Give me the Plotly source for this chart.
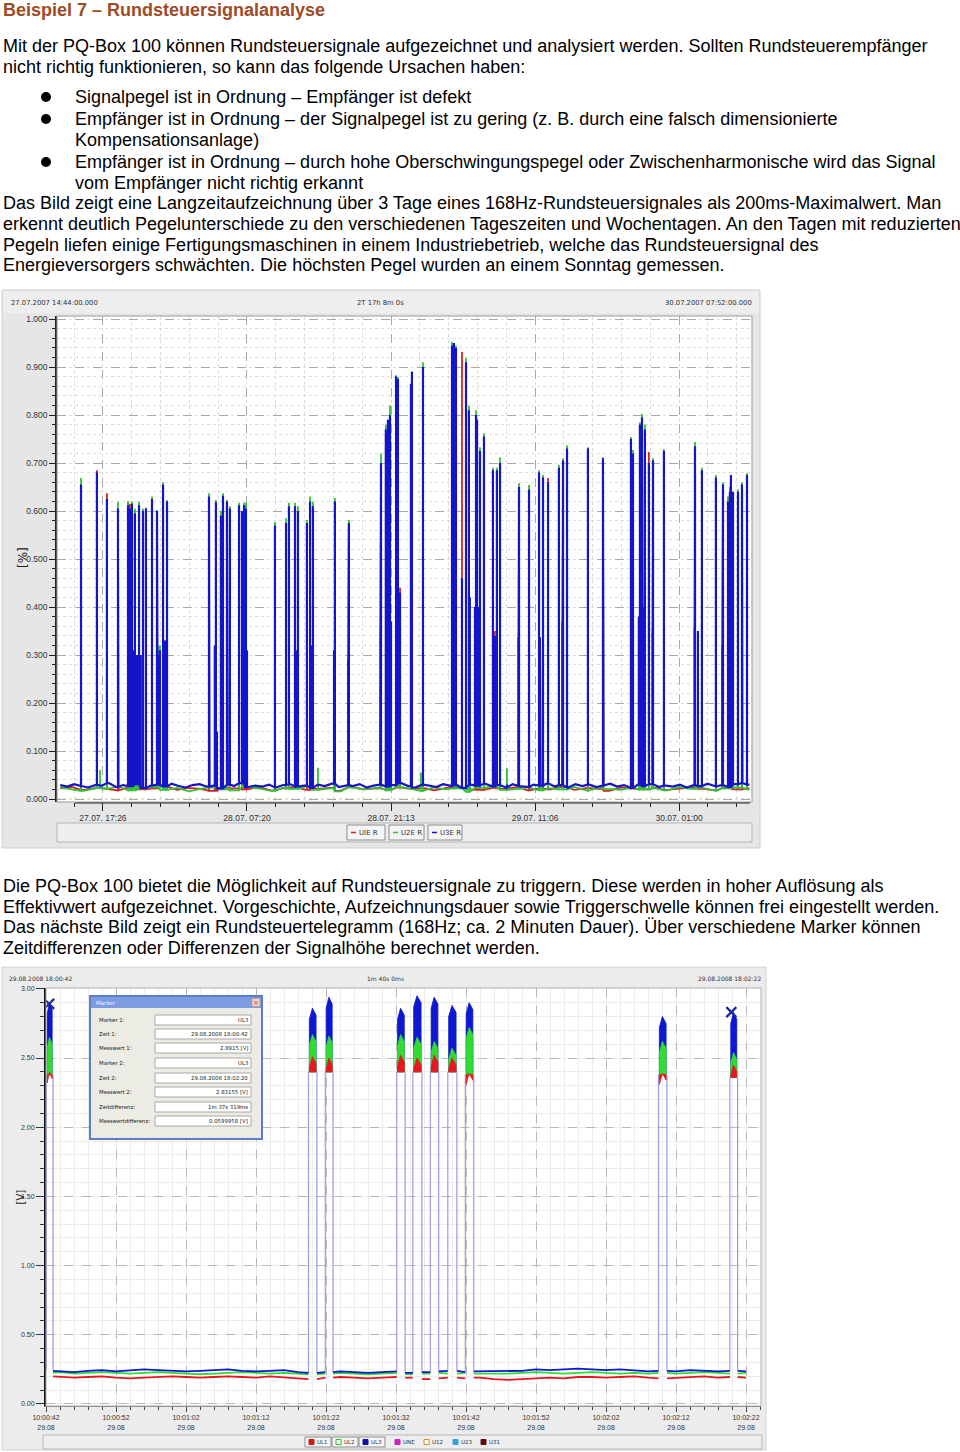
import numpy as np
import plotly.graph_objects as go

W, H = 960, 1452
def X(p): return p / W
def Y(p): return 1 - p / H

# ---------------- Chart 1 data (minutes after 27.07.2007 14:44) ----------------
c1_data_start, c1_data_end = -85, 3905
c1_xrange = [-104, 3920]
c1_tickvals = [162, 996, 1830, 2664, 3498]
c1_ticktext = ["27.07. 17:26", "28.07. 07:20", "28.07. 21:13", "29.07. 11:06", "30.07. 01:00"]
c1_yrange = [-0.00625, 1.00625]
c1_yticks = [0.0, 0.1, 0.2, 0.3, 0.4, 0.5, 0.6, 0.7, 0.8, 0.9, 1.0]

u3_base = [0.029,0.026,0.031,0.027,0.024,0.030,0.028,0.033,0.025,0.029,
           0.027,0.031,0.023,0.028,0.030,0.026,0.032,0.027,0.024,0.029,
           0.031,0.026,0.028,0.022,0.030,0.027,0.033,0.025,0.028,0.026,
           0.030,0.024,0.029,0.031,0.026,0.028,0.023,0.030,0.027,0.032,
           0.025,0.029,0.027,0.031,0.024,0.028,0.030,0.026,0.029,0.033,
           0.027,0.024,0.030,0.028,0.025,0.031,0.027,0.029,0.023,0.030,
           0.028,0.032,0.026,0.029,0.024,0.031,0.027,0.025,0.030,0.028,
           0.033,0.026,0.029,0.024,0.031,0.027,0.030,0.025,0.028,0.032,
           0.026,0.029,0.023,0.030,0.027,0.031,0.025,0.028,0.026,0.030,
           0.024,0.029,0.027,0.032,0.026,0.029,0.025,0.031,0.033,0.030]
u2_base = [0.024,0.020,0.017,0.023,0.021,0.026,0.018,0.022,0.025,0.019,
           0.023,0.016,0.021,0.024,0.020,0.018,0.025,0.022,0.017,0.023,
           0.021,0.026,0.019,0.022,0.016,0.024,0.020,0.023,0.018,0.025,
           0.021,0.017,0.024,0.020,0.022,0.015,0.023,0.026,0.019,0.021,
           0.024,0.018,0.022,0.020,0.025,0.017,0.023,0.021,0.019,0.024,
           0.020,0.022,0.018,0.025,0.021,0.023,0.017,0.022,0.024,0.020]
u1_base = [0.022,0.025,0.019,0.023,0.021,0.018,0.024,0.020,0.022,0.026,
           0.019,0.023,0.021,0.017,0.024,0.022,0.020,0.025,0.018,0.022,
           0.024,0.019,0.021,0.023,0.017,0.025,0.020,0.022,0.019,0.024,
           0.021,0.023,0.018,0.022,0.025,0.020,0.019,0.023,0.021,0.024,
           0.018,0.022,0.020,0.025,0.019,0.023,0.021,0.017,0.024,0.022,
           0.020,0.023,0.019,0.022,0.025,0.021,0.018,0.023,0.020,0.022]

spike_t = [35,127,145,185,249,307,312,318,324,330,
           336,347,353,360,371,380,394,411,446,475,
           480,492,510,516,521,533,776,779,810,816,
           822,845,857,880,884,897,950,967,979,985,
           990,996,1158,1222,1239,1274,1285,1291,1343,1361,
           1372,1378,1407,1500,1505,1582,1586,1768,1772,1800,
           1806,1812,1818,1824,1830,1859,1870,1882,1945,1951,
           2003,2015,2183,2194,2206,2241,2264,2281,2286,2316,
           2322,2328,2334,2345,2368,2420,2432,2437,2443,2461,
           2501,2568,2571,2629,2687,2692,2710,2739,2802,2822,
           2826,2849,2970,3057,3060,3219,3231,3265,3271,3277,
           3283,3290,3296,3300,3323,3344,3347,3410,3413,3588,
           3590,3607,3630,3711,3714,3748,3752,3781,3792,3798,
           3810,3839,3862,3891]
spike_u1 = [.640,.685,.030,.637,.600,.620,.300,.615,.310,.600,
            .300,.600,.290,.290,.600,.290,.590,.590,.610,.590,
            .300,.300,.640,.320,.330,.610,.620,.320,.310,.600,
            .130,.580,.620,.610,.320,.600,.600,.590,.600,.300,
            .610,.300,.560,.570,.600,.600,.300,.590,.570,.610,
            .310,.600,.030,.300,.610,.280,.570,.350,.690,.760,
            .390,.780,.370,.790,.360,.870,.860,.440,.850,.880,
            .030,.890,.940,.940,.930,.931,.900,.800,.410,.390,
            .790,.780,.390,.720,.750,.350,.350,.320,.680,.690,
            .030,.330,.640,.640,.670,.330,.660,.669,.680,.360,
            .700,.720,.720,.700,.360,.740,.710,.370,.770,.390,
            .790,.390,.390,.760,.723,.340,.700,.720,.340,.350,
            .730,.340,.345,.660,.340,.310,.650,.610,.630,.660,
            .630,.630,.650,.670]
spike_u2 = [.669,.670,.060,.620,.619,.620,.310,.600,.315,.620,
            .300,.605,.300,.295,.620,.300,.605,.607,.630,.602,
            .320,.320,.660,.320,.320,.623,.637,.320,.315,.623,
            .130,.600,.637,.623,.325,.610,.617,.600,.617,.300,
            .617,.305,.577,.585,.617,.617,.305,.610,.581,.630,
            .315,.620,.065,.305,.627,.285,.581,.360,.720,.780,
            .400,.790,.380,.820,.370,.883,.879,.420,.860,.890,
            .055,.910,.952,.950,.945,.450,.919,.820,.420,.400,
            .810,.790,.400,.733,.762,.690,.340,.345,.690,.712,
            .064,.337,.658,.654,.685,.337,.675,.660,.696,.370,
            .710,.737,.733,.712,.370,.754,.727,.380,.785,.400,
            .802,.400,.400,.780,.700,.350,.710,.729,.350,.360,
            .744,.350,.690,.675,.350,.320,.660,.630,.650,.675,
            .640,.645,.660,.679]
spike_u3 = [.655,.680,.030,.625,.605,.612,.320,.605,.320,.615,
            .310,.595,.300,.300,.612,.300,.600,.605,.625,.600,
            .300,.310,.655,.330,.330,.620,.630,.330,.320,.618,
            .140,.590,.632,.620,.330,.605,.612,.600,.612,.310,
            .605,.310,.570,.575,.610,.610,.310,.600,.575,.620,
            .320,.610,.030,.310,.620,.290,.575,.360,.700,.770,
            .400,.790,.380,.800,.370,.880,.875,.430,.865,.890,
            .030,.900,.945,.950,.940,.460,.910,.810,.420,.400,
            .800,.790,.400,.725,.755,.685,.340,.330,.685,.700,
            .030,.337,.650,.645,.680,.337,.670,.660,.690,.370,
            .705,.730,.730,.710,.370,.750,.720,.380,.780,.400,
            .795,.400,.400,.770,.700,.350,.705,.725,.350,.360,
            .735,.350,.685,.670,.350,.320,.655,.620,.640,.675,
            .640,.640,.655,.675]

# ---------------- Chart 2 data (seconds after 10:00:42) ----------------
c2_xrange = [0, 102.14]
c2_yrange = [-0.0145, 3.006]
c2_tickvals = [0, 10, 20, 30, 40, 50, 60, 70, 80, 90, 100]
c2_ticktext = ["10:00:42<br>29.08", "10:00:52<br>29.08", "10:01:02<br>29.08", "10:01:12<br>29.08",
               "10:01:22<br>29.08", "10:01:32<br>29.08", "10:01:42<br>29.08", "10:01:52<br>29.08",
               "10:02:02<br>29.08", "10:02:12<br>29.08", "10:02:22<br>29.08"]
c2_yticks = [0.0, 0.5, 1.0, 1.5, 2.0, 2.5, 3.0]

ul3_base = [0.240,0.235,0.230,0.240,0.245,0.235,0.240,0.250,0.245,0.240,
            0.235,0.240,0.245,0.250,0.240,0.235,0.240,0.245,0.230,0.225,
            0.230,0.235,0.230,0.225,0.230,0.235,0.225,0.230,0.235,0.240,
            0.230,0.235,0.240,0.235,0.240,0.250,0.245,0.250,0.255,0.250,
            0.245,0.250,0.240,0.235,0.240,0.235,0.245,0.240,0.235,0.240,0.235]
ul2_base = [0.225,0.230,0.220,0.225,0.230,0.225,0.220,0.225,0.230,0.225,
            0.220,0.215,0.220,0.225,0.230,0.225,0.220,0.225,0.220,0.215,
            0.220,0.225,0.220,0.215,0.220,0.225,0.215,0.220,0.225,0.220,
            0.225,0.220,0.215,0.220,0.225,0.230,0.225,0.220,0.225,0.230,
            0.225,0.220,0.225,0.220,0.225,0.220,0.225,0.230,0.225,0.220,0.225]
ul1_base = [0.200,0.195,0.190,0.195,0.200,0.190,0.185,0.190,0.195,0.200,
            0.195,0.190,0.195,0.200,0.195,0.190,0.200,0.195,0.185,0.180,
            0.190,0.195,0.190,0.185,0.190,0.195,0.190,0.180,0.185,0.190,
            0.185,0.190,0.180,0.175,0.180,0.185,0.190,0.185,0.195,0.195,
            0.190,0.195,0.200,0.190,0.185,0.190,0.195,0.200,0.190,0.195,0.190]

pulse_start = [0.05, 37.5, 39.9, 50.1, 52.4, 54.9, 57.4, 59.9, 87.5, 97.7]
pulse_end   = [1.00, 38.7, 41.0, 51.3, 53.7, 56.1, 58.7, 61.1, 88.7, 98.8]
pulse_lo    = [2.38, 2.40, 2.40, 2.40, 2.40, 2.40, 2.40, 2.38, 2.38, 2.36]
ul1_hi = [2.40, 2.51, 2.50, 2.52, 2.50, 2.52, 2.50, 2.39, 2.39, 2.45]
ul2_hi = [2.65, 2.67, 2.66, 2.67, 2.65, 2.62, 2.57, 2.72, 2.62, 2.54]
ul3_hi = [2.90, 2.86, 2.94, 2.86, 2.95, 2.94, 2.88, 2.90, 2.80, 2.83]
marker_t = [0.45, 97.9]
marker_v = [2.8915, 2.83155]

marker_labels = ["Marker 1:", "Zeit 1:", "Messwert 1:", "Marker 2:", "Zeit 2:",
                 "Messwert 2:", "Zeitdifferenz:", "Messwertdifferenz:"]
marker_values = ["UL3", "29.08.2008 18:00:42", "2.8915 [V]", "UL3", "29.08.2008 18:02:20",
                 "2.83155 [V]", "1m 37s 319ms", "0.0599958 [V]"]

# ---------------- build traces ----------------
def spiky(base, spikes_v):
    tb = np.linspace(c1_data_start, c1_data_end, len(base))
    ev = [(float(t), 0, float(v)) for t, v in zip(tb, base)]
    for t, v in zip(spike_t, spikes_v):
        b = base[int(np.argmin(np.abs(tb - t)))]
        ev += [(float(t), 1, b), (float(t), 2, float(v)), (float(t), 3, b)]
    ev.sort(key=lambda e: (e[0], e[1]))
    return [e[0] for e in ev], [e[2] for e in ev]

def in_pulse(t, pad):
    return any(s - pad <= t <= e + pad for s, e in zip(pulse_start, pulse_end))

def baseline(base):
    tb = np.arange(len(base)) * 2.0
    ev = [(float(t), 0, v) for t, v in zip(tb, base) if not in_pulse(t, 0.4)]
    for s, e in zip(pulse_start, pulse_end):
        bs = base[int(np.argmin(np.abs(tb - s)))]
        be = base[int(np.argmin(np.abs(tb - e)))]
        ev += [(s, 1, bs), (s, 2, None), (e, 1, be)]
    ev.sort(key=lambda q: (q[0], q[1]))
    return [q[0] if q[2] is not None else None for q in ev], [q[2] for q in ev]

def edges(base):
    tb = np.arange(len(base)) * 2.0
    xs, ys = [], []
    for s, e, lo in zip(pulse_start, pulse_end, pulse_lo):
        bs = base[int(np.argmin(np.abs(tb - s)))]
        be = base[int(np.argmin(np.abs(tb - e)))]
        xs += [s, s, None, e, e, None]
        ys += [bs, lo, None, lo, be, None]
    return xs, ys

def bands(hi):
    xs, ys = [], []
    for s, e, lo, h in zip(pulse_start, pulse_end, pulse_lo, hi):
        a, b = s + 0.12, e - 0.12
        m = a + 0.45 * (b - a)
        xs += [a, b, b, m, a, a, None]
        ys += [lo, lo, h - 0.05, h, h - 0.08, lo, None]
    return xs, ys

fig = go.Figure()
c1_cols = {"u1": "#d42424", "u2": "#35c035", "u3": "#1414c8"}
for base, sv, col, lw in [(u1_base, spike_u1, c1_cols["u1"], 1.8), (u2_base, spike_u2, c1_cols["u2"], 1.8),
                          (u3_base, spike_u3, c1_cols["u3"], 2.2)]:
    xs, ys = spiky(base, sv)
    fig.add_trace(go.Scatter(x=xs, y=ys, mode="lines", line=dict(color=col, width=lw),
                             xaxis="x", yaxis="y", showlegend=False, hoverinfo="skip"))

c2_cols = {"ul1": "#e8161e", "ul2": "#30dc30", "ul3": "#0d18d0"}
xs, ys = edges(ul3_base)
fig.add_trace(go.Scatter(x=xs, y=ys, mode="lines", line=dict(color="#9a9ae8", width=1.2),
                         xaxis="x2", yaxis="y2", showlegend=False, hoverinfo="skip"))
for base, col in [(ul1_base, c2_cols["ul1"]), (ul2_base, c2_cols["ul2"]), (ul3_base, c2_cols["ul3"])]:
    xs, ys = baseline(base)
    fig.add_trace(go.Scatter(x=xs, y=ys, mode="lines", line=dict(color=col, width=1.8),
                             xaxis="x2", yaxis="y2", showlegend=False, hoverinfo="skip"))
for hi, col in [(ul3_hi, c2_cols["ul3"]), (ul2_hi, c2_cols["ul2"]), (ul1_hi, c2_cols["ul1"])]:
    xs, ys = bands(hi)
    fig.add_trace(go.Scatter(x=xs, y=ys, mode="lines", fill="toself", fillcolor=col,
                             line=dict(color=col, width=0.8), xaxis="x2", yaxis="y2",
                             showlegend=False, hoverinfo="skip"))
fig.add_trace(go.Scatter(x=marker_t, y=marker_v, mode="markers",
                         marker=dict(symbol="x-thin", size=10, line=dict(color="#1a2a9a", width=2.2)),
                         xaxis="x2", yaxis="y2", showlegend=False, hoverinfo="skip"))

# ---------------- shapes & annotations ----------------
shapes, ann = [], []
def R(x0, y0, x1, y1, fill, line=None, lw=1, layer="below"):
    shapes.append(dict(type="rect", xref="paper", yref="paper", x0=X(x0), x1=X(x1), y0=Y(y1), y1=Y(y0),
                       fillcolor=fill, line=dict(color=line if line else fill, width=lw if line else 0),
                       layer=layer))
def L(x0, y0, x1, y1, col, lw=1, dash="solid", layer="above"):
    shapes.append(dict(type="line", xref="paper", yref="paper", x0=X(x0), x1=X(x1), y0=Y(y0), y1=Y(y1),
                       line=dict(color=col, width=lw, dash=dash), layer=layer))
def T(x, y, s, size=17, color="#000000", anchor="left", family="Liberation Sans", bold=False, angle=0):
    ann.append(dict(x=X(x), y=Y(y), xref="paper", yref="paper", text=("<b>%s</b>" % s) if bold else s,
                    showarrow=False, xanchor=anchor, yanchor="middle", textangle=angle, borderpad=0,
                    font=dict(size=size, color=color, family=family)))

# page text
T(2, 10, "Beispiel 7 – Rundsteuersignalanalyse", size=18, color="#a04a26", bold=True)
body_top = [
    (2, 46, "Mit der PQ-Box 100 können Rundsteuersignale aufgezeichnet und analysiert werden. Sollten Rundsteuerempfänger"),
    (2, 67, "nicht richtig funktionieren, so kann das folgende Ursachen haben:"),
    (74, 97, "Signalpegel ist in Ordnung – Empfänger ist defekt"),
    (74, 119, "Empfänger ist in Ordnung – der Signalpegel ist zu gering (z. B. durch eine falsch dimensionierte"),
    (74, 140, "Kompensationsanlage)"),
    (74, 162, "Empfänger ist in Ordnung – durch hohe Oberschwingungspegel oder Zwischenharmonische wird das Signal"),
    (74, 183, "vom Empfänger nicht richtig erkannt"),
    (2, 203, "Das Bild zeigt eine Langzeitaufzeichnung über 3 Tage eines 168Hz-Rundsteuersignales als 200ms-Maximalwert. Man"),
    (2, 224, "erkennt deutlich Pegelunterschiede zu den verschiedenen Tageszeiten und Wochentagen. An den Tagen mit reduzierten"),
    (2, 245, "Pegeln liefen einige Fertigungsmaschinen in einem Industriebetrieb, welche das Rundsteuersignal des"),
    (2, 265, "Energieversorgers schwächten. Die höchsten Pegel wurden an einem Sonntag gemessen."),
    (2, 886, "Die PQ-Box 100 bietet die Möglichkeit auf Rundsteuersignale zu triggern. Diese werden in hoher Auflösung als"),
    (2, 907, "Effektivwert aufgezeichnet. Vorgeschichte, Aufzeichnungsdauer sowie Triggerschwelle können frei eingestellt werden."),
    (2, 927, "Das nächste Bild zeigt ein Rundsteuertelegramm (168Hz; ca. 2 Minuten Dauer). Über verschiedene Marker können"),
    (2, 948, "Zeitdifferenzen oder Differenzen der Signalhöhe berechnet werden."),
]
for x, y, s in body_top:
    T(x, y, s, size=18)
for by in [97, 119, 162]:
    shapes.append(dict(type="circle", xref="paper", yref="paper", x0=X(41), x1=X(51), y0=Y(by + 5),
                       y1=Y(by - 5), fillcolor="#000", line=dict(width=0), layer="above"))

# chart 1 panel
R(2, 290, 760, 848, "#e6e6e6", "#cfcfcf")
R(3, 291, 759, 313, "#eeeeee")
R(57, 316, 752, 802, "#ffffff")
R(57, 316, 752, 802, "rgba(0,0,0,0)", "#9a9a9a", 1, layer="above")
T(10, 303, "27.07.2007 14:44:00.000", size=6.8, color="#333", family="DejaVu Sans")
T(380, 303, "2T 17h 8m 0s", size=6.8, color="#333", family="DejaVu Sans", anchor="center")
T(753, 303, "30.07.2007 07:52:00.000", size=6.8, color="#333", family="DejaVu Sans", anchor="right")
T(15, 558, "[%]", size=12, color="#222", family="DejaVu Sans", angle=-90)
shapes.append(dict(type="line", xref="x", yref="paper", x0=0, x1=3908, y0=Y(803), y1=Y(803),
                   line=dict(color="#222", width=1.2), layer="above"))
shapes.append(dict(type="line", xref="x domain", yref="y", x0=0, x1=1, y0=0, y1=0,
                   line=dict(color="#e0c060", width=1, dash="dot"), layer="below"))
R(57, 823, 752, 842, "#eeeeee", "#b5b5b5")
for (x0, x1, lab, col) in [(347, 385, "UIE R", c1_cols["u1"]), (389, 424, "U2E R", c1_cols["u2"]),
                           (428, 462, "U3E R", c1_cols["u3"])]:
    R(x0, 825, x1, 840, "#f5f5f5", "#8c8c8c")
    L(x0 + 4, 832.5, x0 + 9, 832.5, col, 1.5)
    T(x0 + 11, 832.5, lab, size=7, color="#333", family="DejaVu Sans")

# chart 2 panel
R(2, 967, 766, 1450, "#ececec", "#d2d2d2")
R(46, 988, 761, 1406, "#ffffff")
R(46, 988, 761, 1406, "rgba(0,0,0,0)", "#b0b0b0", 1, layer="above")
T(8, 978, "29.08.2008 18:00:42", size=6, color="#333", family="DejaVu Sans")
T(385, 978, "1m 40s 0ms", size=6, color="#333", family="DejaVu Sans", anchor="center")
T(762, 978, "29.08.2008 18:02:22", size=6, color="#333", family="DejaVu Sans", anchor="right")
T(13, 1197, "[V]", size=10, color="#222", family="DejaVu Sans", angle=-90)
R(43, 1435, 762, 1449, "#eeeeee", "#b5b5b5")
leg2 = [(309, "UL1", "#d01818", "#d01818", True), (336, "UL2", "#ffffff", "#30c030", True),
        (363, "UL3", "#1010b0", "#1010b0", True), (395, "UNE", "#d020c0", "#d020c0", False),
        (424, "U12", "#ffffff", "#d09020", False), (453, "U23", "#3aa0d8", "#3aa0d8", False),
        (481, "U31", "#5a0e12", "#5a0e12", False)]
for x, lab, fillc, linec, boxed in leg2:
    if boxed:
        R(x - 4, 1437, x + 22, 1447, "#f5f5f5", "#8c8c8c")
    R(x, 1439.5, x + 5, 1444.5, fillc, linec, 1, layer="above")
    T(x + 7, 1442, lab, size=5.5, color="#333", family="DejaVu Sans")

# marker dialog
R(90, 996, 262, 1139, "#ecebe4", "#5b7ec8", 2, layer="above")
R(91, 997, 261, 1008, "#7c9be0", layer="above")
T(95, 1002.5, "Marker", size=5.5, color="#f4f4ff", family="DejaVu Sans")
R(252, 998.5, 260, 1006.5, "#f3d6cf", "#c09c98", 1, layer="above")
T(256, 1002.5, "×", size=7, color="#a04040", family="DejaVu Sans", anchor="center")
row_y = [1020, 1034, 1048, 1063, 1078, 1092, 1107, 1121]
for ry, lab, val in zip(row_y, marker_labels, marker_values):
    R(155, ry - 5, 251, ry + 5, "#ffffff", "#a8a8a8", 1, layer="above")
    T(98, ry, lab, size=5.4, color="#222", family="DejaVu Sans")
    T(249, ry, val, size=5.4, color="#222", family="DejaVu Sans", anchor="right")

tickfont1 = dict(size=8.5, color="#333", family="Liberation Sans")
tickfont2 = dict(size=7, color="#333", family="Liberation Sans")
fig.update_layout(
    width=W, height=H, autosize=False, margin=dict(l=0, r=0, t=0, b=0, pad=0, autoexpand=False),
    paper_bgcolor="#ffffff", plot_bgcolor="rgba(0,0,0,0)",
    shapes=shapes, annotations=ann, showlegend=False,
    xaxis=dict(domain=[X(57), X(752)], anchor="y", range=c1_xrange, tickmode="array",
               tickvals=c1_tickvals, ticktext=c1_ticktext, ticks="outside", ticklen=8, tickcolor="#222",
               tickfont=tickfont1, showline=False, zeroline=False,
               showgrid=True, gridcolor="#a8a8a8", griddash="dash", gridwidth=1,
               minor=dict(tickmode="linear", tick0=162, dtick=166.8, ticks="outside", ticklen=4,
                          tickcolor="#222", showgrid=True, gridcolor="#dadada", griddash="dot")),
    yaxis=dict(domain=[Y(802), Y(316)], anchor="x", range=c1_yrange, tickmode="array",
               tickvals=c1_yticks, tickformat=".3f", ticks="outside", ticklen=6, tickcolor="#222",
               tickfont=tickfont1, showline=True, linecolor="#222", linewidth=1.5, zeroline=False,
               showgrid=True, gridcolor="#a8a8a8", griddash="dash", gridwidth=1,
               minor=dict(tickmode="linear", tick0=0, dtick=0.02, ticks="outside", ticklen=3,
                          tickcolor="#222", showgrid=True, gridcolor="#dedede", griddash="dot")),
    xaxis2=dict(domain=[X(46), X(761)], anchor="y2", range=c2_xrange, tickmode="array",
                tickvals=c2_tickvals, ticktext=c2_ticktext, ticks="outside", ticklen=5, tickcolor="#444",
                tickfont=tickfont2, showline=True, linecolor="#777", linewidth=1, zeroline=False,
                showgrid=True, gridcolor="#b8b8b8", griddash="dash", gridwidth=1,
                minor=dict(tickmode="linear", tick0=0, dtick=2, ticks="outside", ticklen=3,
                           tickcolor="#444", showgrid=True, gridcolor="#ececec", griddash="solid")),
    yaxis2=dict(domain=[Y(1406), Y(988)], anchor="x2", range=c2_yrange, tickmode="array",
                tickvals=c2_yticks, tickformat=".2f", ticks="outside", ticklen=8, tickcolor="#333",
                tickfont=tickfont2, showline=True, linecolor="#111", linewidth=2, zeroline=False,
                showgrid=True, gridcolor="#b8b8b8", griddash="dash", gridwidth=1,
                minor=dict(tickmode="linear", tick0=0, dtick=0.1, ticks="outside", ticklen=4,
                           tickcolor="#333", showgrid=True, gridcolor="#ececec", griddash="solid")),
)
fig.write_html("out.html",
               post_script="document.body.style.margin='0';document.body.style.padding='0';"
                           "document.documentElement.style.overflow='hidden';")
